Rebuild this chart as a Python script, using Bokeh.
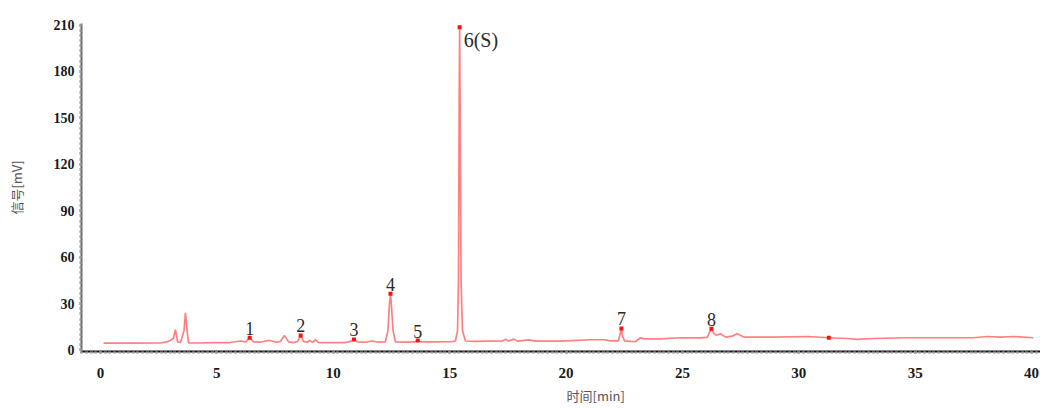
from bokeh.plotting import figure
from bokeh.models import Range1d, SingleIntervalTicker, Title
from bokeh.embed import file_html
from bokeh.resources import INLINE
from bokeh.core.properties import value

# chromatogram trace: time [min], signal [mV]
time_min = [0.13, 1.29, 2.58, 2.84, 3.00, 3.13, 3.22, 3.31, 3.44, 3.59, 3.65, 3.72, 3.78,
            4.29, 4.94, 5.58, 6.02, 6.23, 6.41, 6.57, 6.87, 7.23, 7.56, 7.73, 7.90, 8.08,
            8.29, 8.47, 8.60, 8.72, 8.88, 8.98, 9.11, 9.24, 9.37, 9.88, 10.53, 10.74, 10.89,
            11.04, 11.38, 11.67, 11.95, 12.24, 12.35, 12.41, 12.46, 12.50, 12.57, 12.67,
            13.11, 13.49, 13.63, 13.79, 14.39, 15.04, 15.25, 15.34, 15.38, 15.41, 15.43,
            15.45, 15.49, 15.55, 15.68, 16.11, 16.75, 17.27, 17.40, 17.53, 17.76, 17.91,
            18.40, 18.69, 19.76, 21.06, 21.61, 21.91, 22.25, 22.33, 22.38, 22.42, 22.51,
            22.65, 22.98, 23.20, 23.35, 24.06, 24.91, 25.78, 26.07, 26.16, 26.25, 26.35,
            26.46, 26.64, 26.86, 27.14, 27.35, 27.64, 28.92, 30.37, 31.29, 32.08, 32.51,
            33.21, 34.66, 37.50, 38.10, 38.66, 39.23, 40.08]
signal_mv = [4.4, 4.4, 4.5, 5.2, 6.1, 7.4, 13.1, 5.2, 4.8, 12.6, 24.0, 12.6, 4.5,
             4.5, 4.8, 4.8, 5.8, 5.2, 7.9, 5.2, 5.0, 6.3, 5.0, 5.5, 9.4, 5.2,
             4.7, 5.5, 9.4, 5.5, 5.0, 6.1, 5.0, 6.6, 4.7, 4.7, 4.8, 5.5, 6.8,
             5.2, 5.0, 5.8, 5.0, 5.2, 12.6, 28.8, 36.3, 28.8, 12.6, 5.2,
             5.0, 5.2, 6.1, 5.2, 5.2, 5.3, 5.8, 12.6, 44.9, 161.3, 208.5,
             161.3, 44.9, 12.6, 5.8, 5.5, 5.7, 5.8, 7.0, 5.8, 7.0, 5.7,
             6.5, 5.7, 5.7, 6.6, 6.6, 5.9, 5.9, 10.7, 13.9, 9.4, 5.9,
             5.7, 5.3, 7.9, 7.2, 7.2, 7.9, 7.8, 8.1, 11.3, 13.7, 10.7,
             9.6, 10.5, 8.3, 8.9, 10.5, 8.3, 8.3, 8.7, 7.9, 7.4, 6.8,
             7.4, 7.9, 7.9, 8.7, 8.3, 8.7, 7.9]

# labelled peaks
peak_ids = ["1", "2", "3", "4", "5", "7", "8"]
peak_time = [6.41, 8.60, 10.89, 12.46, 13.63, 22.38, 26.25]
peak_signal = [7.9, 9.4, 6.8, 36.3, 6.1, 13.9, 13.7]
ref_id = ["6(S)"]
ref_time = [15.43]
ref_signal = [208.5]
extra_time = [31.29]
extra_signal = [7.9]

x_ticks_interval = 5
y_ticks_interval = 30

p = figure(width=1040, height=408, output_backend="svg", toolbar_location=None,
           x_range=Range1d(-0.816, 40.385), y_range=Range1d(-1, 211),
           min_border_left=81, min_border_right=0, min_border_top=23,
           min_border_bottom=57, background_fill_color="white")
p.outline_line_color = None
p.grid.visible = False

p.line(time_min, signal_mv, line_color="#FF8080", line_width=1.7)
p.scatter(peak_time + ref_time + extra_time, peak_signal + ref_signal + extra_signal,
          marker="square", size=4, fill_color="#FF1010", line_color=None)

p.text(peak_time, peak_signal, text=peak_ids, text_font=value("Liberation Serif"),
       text_font_size="18px", text_color="#2a2a2a", text_align="center",
       text_baseline="bottom", y_offset=-3)
p.text(ref_time, ref_signal, text=ref_id, text_font=value("Liberation Serif"),
       text_font_size="20px", text_color="#2a2a2a", text_align="left",
       text_baseline="top", x_offset=4, y_offset=2)

# axes
xa = p.xaxis[0]
xa.ticker = SingleIntervalTicker(interval=x_ticks_interval, num_minor_ticks=25)
xa.axis_line_color = "#111111"
xa.axis_line_width = 2
xa.major_tick_in = 0
xa.major_tick_out = 2
xa.minor_tick_in = 0
xa.minor_tick_out = 2
xa.major_tick_line_color = "#999999"
xa.minor_tick_line_color = "#999999"
xa.major_tick_line_width = 3
xa.minor_tick_line_width = 3
xa.major_label_standoff = 14
xa.major_label_text_font = "Liberation Serif"
xa.major_label_text_font_style = "bold"
xa.major_label_text_font_size = "15px"
xa.major_label_text_color = "#1a1a1a"

ya = p.yaxis[0]
ya.ticker = SingleIntervalTicker(interval=y_ticks_interval, num_minor_ticks=9)
ya.axis_line_color = "#666666"
ya.axis_line_width = 2
ya.major_tick_in = 0
ya.major_tick_out = 2
ya.minor_tick_in = 0
ya.minor_tick_out = 2
ya.major_tick_line_color = "#999999"
ya.minor_tick_line_color = "#999999"
ya.major_tick_line_width = 3
ya.minor_tick_line_width = 3
ya.major_label_standoff = 5
ya.major_label_text_font = "Liberation Serif"
ya.major_label_text_font_style = "bold"
ya.major_label_text_font_size = "14px"
ya.major_label_text_color = "#1a1a1a"
ya.axis_label = "信号[mV]"
ya.axis_label_text_font = "Noto Sans CJK SC"
ya.axis_label_text_font_style = "normal"
ya.axis_label_text_font_size = "13px"
ya.axis_label_text_color = "#555555"
ya.axis_label_standoff = 25

xtitle = Title(text="时间[min]", align="left", offset=485, standoff=6,
               text_font="Noto Sans CJK SC", text_font_size="13px",
               text_font_style="normal", text_color="#555555")
p.add_layout(xtitle, "below")

open("out.html", "w").write(file_html(p, INLINE))
